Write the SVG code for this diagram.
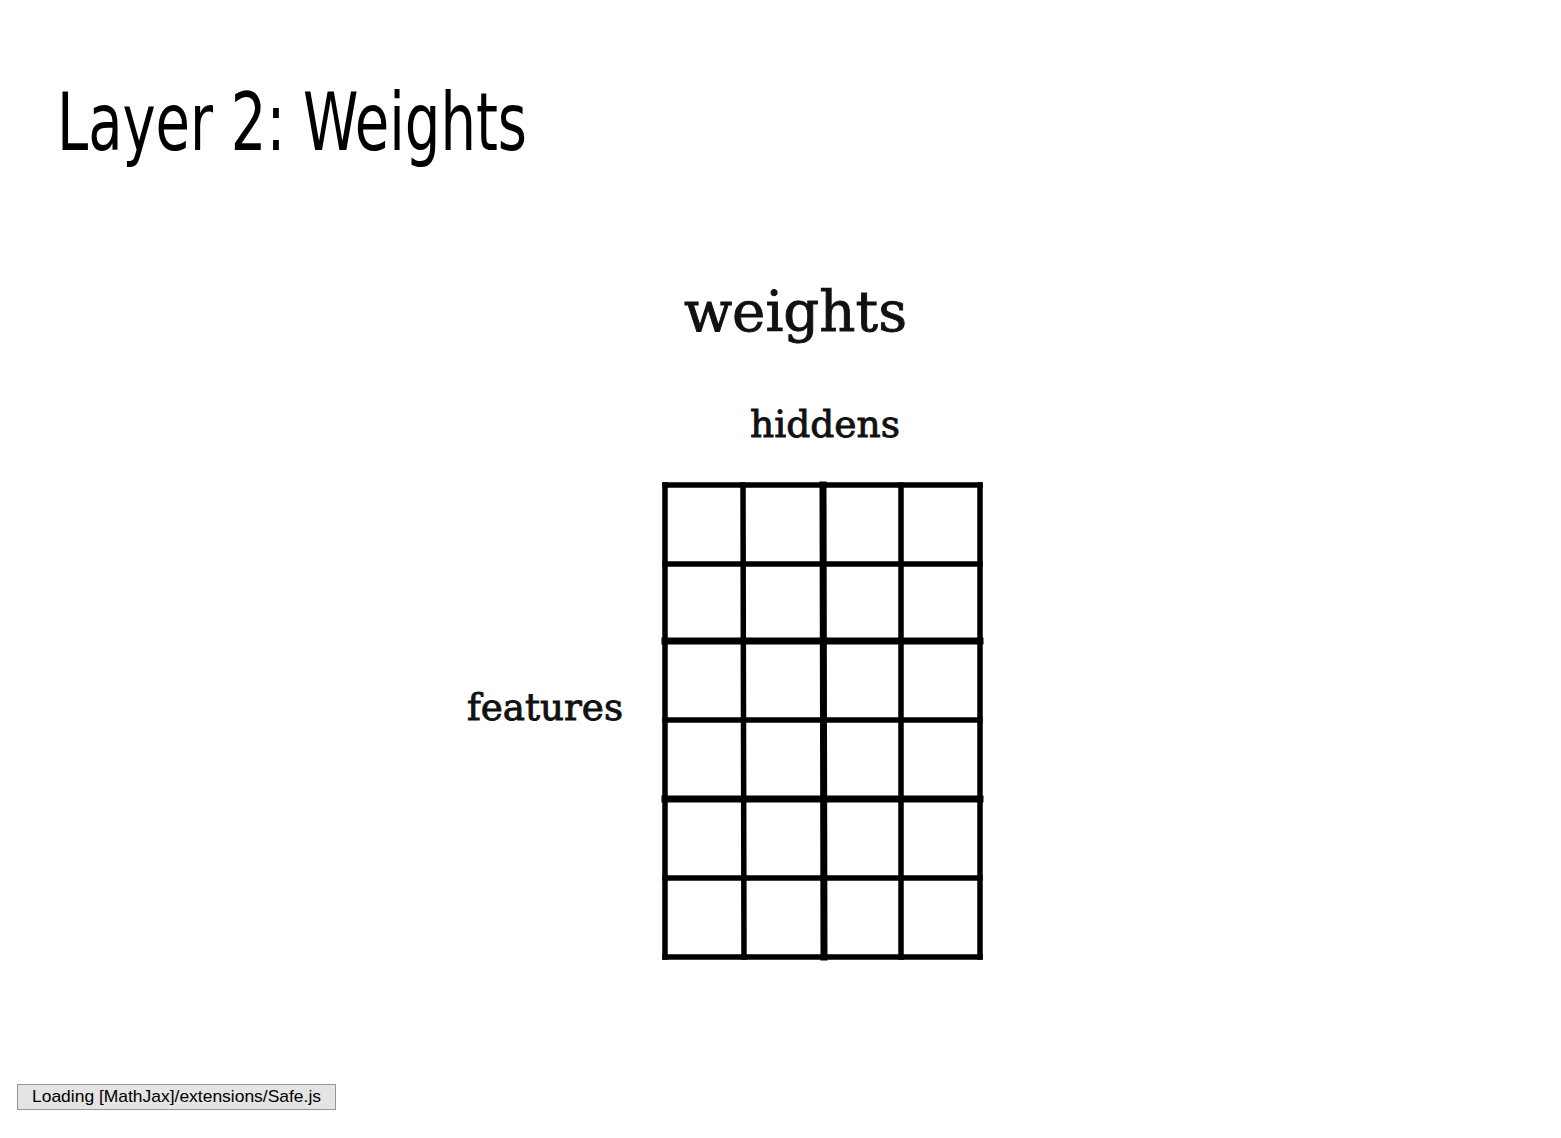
<svg xmlns="http://www.w3.org/2000/svg" width="1561" height="1138" viewBox="0 0 1561 1138">
<style>
.tw{font-family:"DejaVu Serif","Liberation Serif",serif;fill:#111;stroke:#111;stroke-width:0.9}
.g{stroke:#000;fill:none;stroke-linecap:square}
</style>
<rect width="1561" height="1138" fill="#fff"/>
<g id="title"><text x="57" y="150" font-family="'Liberation Sans Narrow','DejaVu Sans Condensed','Liberation Sans',sans-serif" font-size="80" textLength="470" lengthAdjust="spacingAndGlyphs" fill="#000">Layer 2: Weights</text></g>
<g id="weights-label"><text class="tw" x="684" y="331" font-size="56" textLength="223" lengthAdjust="spacingAndGlyphs">weights</text></g>
<g id="hiddens-label"><text class="tw" x="750" y="437" font-size="38" textLength="150" lengthAdjust="spacingAndGlyphs">hiddens</text></g>
<g id="features-label"><text class="tw" x="467" y="720" font-size="38" textLength="156" lengthAdjust="spacingAndGlyphs">features</text></g>
<g id="grid">
<g class="g" stroke-width="5.5">
<line x1="665" y1="485" x2="665" y2="957"/>
<line x1="743" y1="485" x2="744" y2="957"/>
<line x1="901" y1="485" x2="901" y2="957"/>
<line x1="980" y1="485" x2="980" y2="957"/>
<line x1="665" y1="485" x2="980" y2="485"/>
<line x1="665" y1="564" x2="980" y2="564"/>
<line x1="665" y1="720" x2="980" y2="720"/>
<line x1="665" y1="878" x2="980" y2="878"/>
<line x1="665" y1="957" x2="980" y2="957"/>
</g>
<g class="g" stroke-width="7">
<line x1="823" y1="485" x2="824" y2="957"/>
<line x1="665" y1="641" x2="980" y2="641"/>
<line x1="665" y1="799" x2="980" y2="799"/>
</g>
</g>
<g id="loading">
<rect x="17.5" y="1084.5" width="318" height="25" fill="#e4e4e4" stroke="#959595"/>
<text x="32" y="1102" font-family="'Liberation Sans',Arial,sans-serif" font-size="17" textLength="289" lengthAdjust="spacingAndGlyphs" fill="#000">Loading [MathJax]/extensions/Safe.js</text>
</g>
</svg>
